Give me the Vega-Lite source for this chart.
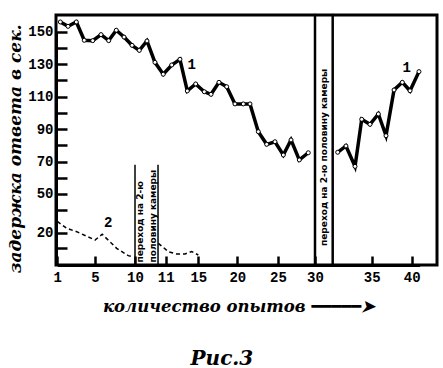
{
  "$schema": "https://vega.github.io/schema/vega-lite/v6.json",
  "width": 381,
  "height": 250,
  "autosize": {"type": "none"},
  "padding": {"left": 56, "top": 15, "right": 6, "bottom": 103},
  "background": "white",
  "config": {
    "view": {"stroke": "black", "strokeWidth": 3},
    "axis": {
      "grid": false,
      "domainColor": "black",
      "domainWidth": 3,
      "tickColor": "black",
      "tickWidth": 2.5,
      "labelColor": "black",
      "labelFont": "Liberation Mono",
      "labelFontWeight": "bold",
      "labelFontSize": 14,
      "labelFlush": false,
      "labelOverlap": false,
      "labelBound": false,
      "titleColor": "black",
      "titleFont": "DejaVu Serif",
      "titleFontWeight": "bold",
      "titleFontStyle": "italic",
      "titleFontSize": 17
    }
  },
  "title": {
    "text": "Рис.3",
    "orient": "bottom",
    "anchor": "middle",
    "frame": "bounds",
    "font": "DejaVu Serif",
    "fontSize": 20,
    "fontWeight": "bold",
    "fontStyle": "italic",
    "color": "black",
    "offset": 34
  },
  "datasets": {
    "curve1": [
      {"part": "a", "trial": 1.32, "value": 156.0},
      {"part": "a", "trial": 2.14, "value": 153.3},
      {"part": "a", "trial": 3.02, "value": 156.0},
      {"part": "a", "trial": 3.86, "value": 144.7},
      {"part": "a", "trial": 4.76, "value": 144.5},
      {"part": "a", "trial": 5.75, "value": 148.2},
      {"part": "a", "trial": 6.71, "value": 144.5},
      {"part": "a", "trial": 7.66, "value": 150.9},
      {"part": "a", "trial": 8.63, "value": 146.7},
      {"part": "a", "trial": 9.63, "value": 141.6},
      {"part": "a", "trial": 10.14, "value": 138.5},
      {"part": "a", "trial": 10.39, "value": 144.3},
      {"part": "a", "trial": 10.65, "value": 131.1},
      {"part": "a", "trial": 10.92, "value": 123.8},
      {"part": "a", "trial": 11.74, "value": 129.5},
      {"part": "a", "trial": 12.75, "value": 133.0},
      {"part": "a", "trial": 13.65, "value": 113.5},
      {"part": "a", "trial": 14.68, "value": 117.8},
      {"part": "a", "trial": 15.77, "value": 113.0},
      {"part": "a", "trial": 16.63, "value": 111.4},
      {"part": "a", "trial": 17.65, "value": 118.8},
      {"part": "a", "trial": 18.64, "value": 116.1},
      {"part": "a", "trial": 19.7, "value": 105.5},
      {"part": "a", "trial": 20.74, "value": 105.5},
      {"part": "a", "trial": 21.56, "value": 105.5},
      {"part": "a", "trial": 22.58, "value": 88.4},
      {"part": "a", "trial": 23.61, "value": 80.6},
      {"part": "a", "trial": 24.63, "value": 82.2},
      {"part": "a", "trial": 25.72, "value": 74.0},
      {"part": "a", "trial": 26.76, "value": 83.3},
      {"part": "a", "trial": 27.88, "value": 71.0},
      {"part": "a", "trial": 29.09, "value": 75.4},
      {"part": "b", "trial": 32.0, "value": 75.7},
      {"part": "b", "trial": 32.73, "value": 79.6},
      {"part": "b", "trial": 33.53, "value": 67.0},
      {"part": "b", "trial": 34.12, "value": 96.0},
      {"part": "b", "trial": 34.85, "value": 92.9},
      {"part": "b", "trial": 35.83, "value": 99.3},
      {"part": "b", "trial": 36.79, "value": 85.9},
      {"part": "b", "trial": 37.79, "value": 114.1},
      {"part": "b", "trial": 38.83, "value": 118.8},
      {"part": "b", "trial": 39.79, "value": 113.6},
      {"part": "b", "trial": 40.91, "value": 125.4}
    ],
    "curve2": [
      {"part": "a", "trial": 1.0, "value": 30.0},
      {"part": "a", "trial": 2.0, "value": 23.9},
      {"part": "a", "trial": 3.06, "value": 20.9},
      {"part": "a", "trial": 5.0, "value": 15.3},
      {"part": "a", "trial": 5.9, "value": 19.0},
      {"part": "a", "trial": 7.71, "value": 10.0},
      {"part": "a", "trial": 9.16, "value": 5.6},
      {"part": "a", "trial": 9.71, "value": 5.0},
      {"part": "b", "trial": 10.76, "value": 13.2},
      {"part": "b", "trial": 11.32, "value": 8.0},
      {"part": "b", "trial": 12.35, "value": 6.6},
      {"part": "b", "trial": 13.37, "value": 6.6},
      {"part": "b", "trial": 14.19, "value": 8.1},
      {"part": "b", "trial": 15.0, "value": 6.0}
    ],
    "bandLow": [
      {"trial": 10.0, "value": 0, "value2": 68},
      {"trial": 10.75, "value": 0, "value2": 68}
    ],
    "bandHigh": [
      {"trial": 30.0, "value": 0, "value2": 161},
      {"trial": 31.56, "value": 0, "value2": 161}
    ],
    "bandText": [
      {"trial": 10.16, "value": 1.5, "label": "переход на 2-ю"},
      {"trial": 10.59, "value": 1.5, "label": "половину камеры"},
      {"trial": 30.79, "value": 11.5, "label": "переход на 2-ю  половину камеры"}
    ],
    "curveLabels": [
      {"trial": 14.19, "value": 129.5, "label": "1"},
      {"trial": 39.37, "value": 127.8, "label": "1"},
      {"trial": 6.66, "value": 28.4, "label": "2"}
    ]
  },
  "encoding": {
    "x": {
      "field": "trial",
      "type": "quantitative",
      "scale": {
        "domain": [1, 5, 10, 11, 15, 20, 25, 30, 35, 40, 41],
        "range": [1.3, 39, 79, 109.7, 142.3, 181.3, 222, 259, 315.7, 355.7, 363.7],
        "zero": false,
        "nice": false
      },
      "axis": {
        "values": [1, 5, 10, 11, 15, 20, 25, 30, 35, 40],
        "title": "количество опытов  ━━━━━➤",
        "titleFontSize": 16.5,
        "titlePadding": 14,
        "tickSize": -9,
        "labelPadding": 14
      }
    },
    "y": {
      "field": "value",
      "type": "quantitative",
      "scale": {
        "domain": [0, 10, 20, 40, 150],
        "range": [250, 233.3, 217.7, 195.2, 16.7],
        "zero": false,
        "nice": false
      },
      "axis": {
        "values": [150, 140, 130, 120, 110, 100, 90, 80, 70, 60, 50, 40, 20, 10],
        "labelExpr": "indexof([140, 120, 100, 80, 60, 40, 10], datum.value) >= 0 ? '' : datum.label",
        "title": "задержка ответа в сек.",
        "titleFontSize": 17,
        "titlePadding": 3,
        "tickSize": -11,
        "labelPadding": 14
      }
    }
  },
  "layer": [
    {
      "data": {"name": "curve2"},
      "mark": {"type": "line", "color": "black", "strokeWidth": 1.5, "strokeDash": [4, 3]},
      "encoding": {"detail": {"field": "part"}}
    },
    {
      "data": {"name": "curve1"},
      "mark": {"type": "line", "color": "black", "strokeWidth": 3.5},
      "encoding": {"detail": {"field": "part"}}
    },
    {
      "data": {"name": "curve1"},
      "mark": {"type": "point", "shape": "circle", "filled": true, "fill": "white", "stroke": "black", "strokeWidth": 1, "size": 16, "opacity": 1}
    },
    {
      "data": {"name": "bandLow"},
      "mark": {"type": "rule", "color": "black", "strokeWidth": 1.5},
      "encoding": {"y2": {"field": "value2"}}
    },
    {
      "data": {"name": "bandHigh"},
      "mark": {"type": "rule", "color": "black", "strokeWidth": 2.5},
      "encoding": {"y2": {"field": "value2"}}
    },
    {
      "data": {"name": "bandText"},
      "mark": {"type": "text", "angle": 270, "align": "left", "baseline": "middle", "font": "DejaVu Sans", "fontWeight": "bold", "fontSize": 9, "color": "black"},
      "encoding": {"text": {"field": "label"}}
    },
    {
      "data": {"name": "curveLabels"},
      "mark": {"type": "text", "align": "center", "baseline": "middle", "font": "Liberation Mono", "fontWeight": "bold", "fontSize": 14, "color": "black"},
      "encoding": {"text": {"field": "label"}}
    }
  ]
}
